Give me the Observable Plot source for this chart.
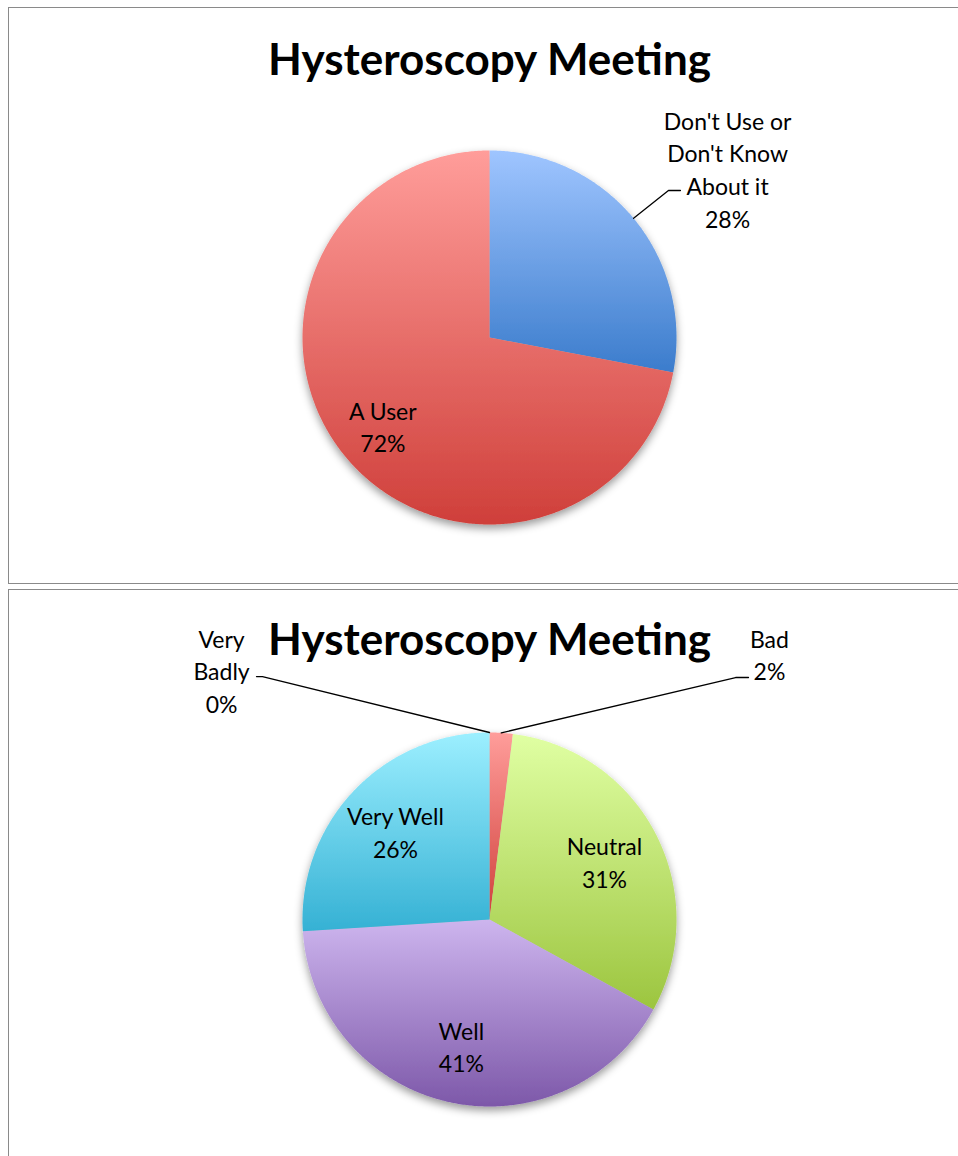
<!DOCTYPE html>
<html><head><meta charset="utf-8">
<script src="https://cdn.jsdelivr.net/npm/d3@7"></script>
<script src="https://cdn.jsdelivr.net/npm/@observablehq/plot@0.6"></script>
<style>
html,body{margin:0;padding:0;background:#fff;overflow:hidden;}
#page{position:relative;width:958px;height:1156px;overflow:hidden;}
.box{position:absolute;left:8px;width:1000px;border:1.5px solid #8a8a8a;box-sizing:border-box;}
#box1{top:7px;height:577px;}
#box2{top:589px;height:700px;}
.chart{position:absolute;left:0;}
#c1{top:0;}
#c2{top:586px;}
</style></head>
<body>
<div id="page">
  <div class="box" id="box1"></div>
  <div class="box" id="box2"></div>
  <div class="chart" id="c1"></div>
  <div class="chart" id="c2"></div>
</div>
<script>
// ---------- DATA ----------
const chartTitle = "Hysteroscopy Meeting";

const usageCategories = ["Don't Use or\nDon't Know\nAbout it", "A User"];
const usageValues = [28, 72];

const ratingCategories = ["Very\nBadly", "Bad", "Neutral", "Well", "Very Well"];
const ratingValues = [0, 2, 31, 41, 26];

// ---------- STYLES ----------
const usageGradients = [["#9fc5ff", "#3b7ccc"], ["#ff9d9a", "#cf3f3a"]];
const ratingGradients = [["#9fc5ff", "#3b7ccc"], ["#ff9d9a", "#cf3f3a"], ["#e0ffa3", "#9cc53f"], ["#cdb5ee", "#7d58a9"], ["#9cefff", "#35b1d4"]];

// outside-label layout (radius units, relative to pie centre, y up)
const usageOutside = [
  {index: 0, elbow: [0.957, 0.786], tail: [1.021, 0.786], label: [1.273, 0.906]}
];
const ratingOutside = [
  {index: 0, elbow: [-1.214, 1.299], tail: [-1.246, 1.299], label: [-1.433, 1.334]},
  {index: 1, elbow: [1.316, 1.294], tail: [1.385, 1.294], label: [1.497, 1.422]}
];

const W = 958;
const FONT = "Lato, 'Open Sans', sans-serif";

function pieChart({id, names, values, gradients, outside, H, cx, cy, R, insideR, titleBaseline}) {
  const total = d3.sum(values);
  let acc = 0;
  const slices = names.map((name, i) => {
    const a0 = acc / total * 2 * Math.PI;
    acc += values[i];
    const a1 = acc / total * 2 * Math.PI;
    return {name, value: values[i], i, a0, a1, mid: (a0 + a1) / 2,
            label: name + "\n" + Math.round(values[i] / total * 100) + "%"};
  });

  const pts = [];
  for (const s of slices) {
    if (s.a1 - s.a0 <= 0) continue;
    const n = Math.max(2, Math.ceil((s.a1 - s.a0) / (Math.PI / 360)));
    pts.push({name: s.name, x: 0, y: 0});
    for (let k = 0; k <= n; k++) {
      const a = s.a0 + (s.a1 - s.a0) * k / n;
      pts.push({name: s.name, x: Math.sin(a), y: Math.cos(a)});
    }
    pts.push({name: s.name, x: 0, y: 0});
  }

  const outsideIdx = new Set(outside.map(o => o.index));
  const inside = slices.filter(s => !outsideIdx.has(s.i));
  const leaders = [];
  const outLabels = [];
  for (const o of outside) {
    const s = slices[o.index];
    leaders.push({name: s.name, x: Math.sin(s.mid), y: Math.cos(s.mid)});
    leaders.push({name: s.name, x: o.elbow[0], y: o.elbow[1]});
    leaders.push({name: s.name, x: o.tail[0], y: o.tail[1]});
    outLabels.push({label: s.label, x: o.label[0], y: o.label[1]});
  }

  const plot = Plot.plot({
    width: W, height: H, margin: 0,
    style: {fontFamily: FONT, background: "transparent", color: "black"},
    x: {domain: [-cx / R, (W - cx) / R], range: [0, W], axis: null},
    y: {domain: [-(H - cy) / R, cy / R], range: [H, 0], axis: null},
    color: {type: "ordinal", domain: names, range: names.map((_, i) => `url(#${id}-g${i})`)},
    marks: [
      Plot.line(pts, {x: "x", y: "y", z: "name", fill: "name", stroke: "none", curve: "linear"}),
      Plot.line(leaders, {x: "x", y: "y", z: "name", stroke: "black", strokeWidth: 1.3}),
      Plot.text(inside, {x: d => insideR * Math.sin(d.mid), y: d => insideR * Math.cos(d.mid),
        text: "label", fontSize: 23, lineHeight: 1.42, fill: "black"}),
      Plot.text(outLabels, {x: "x", y: "y", text: "label", fontSize: 23, lineHeight: 1.42, fill: "black"}),
      Plot.text([chartTitle], {x: () => 0, frameAnchor: "top", dy: titleBaseline, lineAnchor: "bottom",
        text: d => d, fontSize: 44, fontWeight: "bold", fill: "black"})
    ]
  });

  const svg = d3.select(plot);
  const defs = svg.insert("defs", ":first-child");
  gradients.forEach((g, i) => {
    const lg = defs.append("linearGradient").attr("id", `${id}-g${i}`)
      .attr("x1", 0).attr("y1", 0).attr("x2", 0).attr("y2", 1);
    lg.append("stop").attr("offset", "0%").attr("stop-color", g[0]);
    lg.append("stop").attr("offset", "100%").attr("stop-color", g[1]);
  });
  const f = defs.append("filter").attr("id", `${id}-shadow`)
    .attr("x", "-20%").attr("y", "-20%").attr("width", "140%").attr("height", "150%");
  f.append("feDropShadow").attr("dx", 0).attr("dy", 4).attr("stdDeviation", 4)
    .attr("flood-color", "#000").attr("flood-opacity", 0.4);
  svg.select('g[aria-label="line"]').attr("filter", `url(#${id}-shadow)`);
  return plot;
}

document.getElementById("c1").appendChild(pieChart({
  id: "usage", names: usageCategories, values: usageValues, gradients: usageGradients,
  outside: usageOutside, H: 586, cx: 489, cy: 337, R: 187, insideR: 0.74, titleBaseline: 74
}));
document.getElementById("c2").appendChild(pieChart({
  id: "rating", names: ratingCategories, values: ratingValues, gradients: ratingGradients,
  outside: ratingOutside, H: 570, cx: 489, cy: 333, R: 187, insideR: 0.69, titleBaseline: 68
}));
</script>
</body></html>
